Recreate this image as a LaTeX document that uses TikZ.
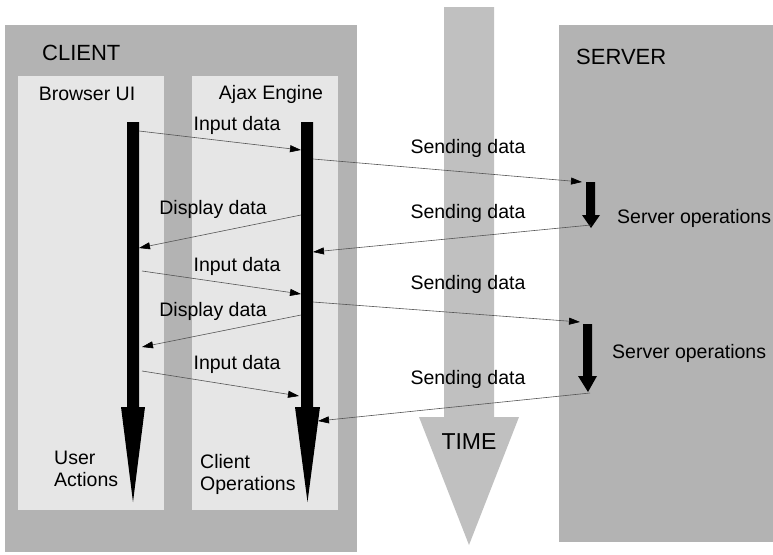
\documentclass[tikz,border=0pt]{standalone}
\usepackage{fontspec}
\setmainfont{Liberation Sans}
\usetikzlibrary{arrows.meta}
\definecolor{boxgray}{HTML}{B3B3B3}
\definecolor{panelgray}{HTML}{E6E6E6}
\definecolor{timegray}{HTML}{C0C0C0}
\definecolor{msgline}{HTML}{555555}
\tikzset{
  region/.style={fill=boxgray, draw=none},
  panel/.style={fill=panelgray, draw=none},
  lbl/.style={font=\fontsize{19.5}{22}\selectfont, inner sep=0pt, text=black},
  title/.style={font=\fontsize{22}{25}\selectfont, inner sep=0pt, text=black},
  msg/.style={draw=msgline, line width=0.6pt, -{Triangle[length=11pt,width=7pt,black]}},
  thick arrow/.style={fill=black, draw=none},
}
\begin{document}
\begin{tikzpicture}[x=1pt,y=-1pt]
\useasboundingbox (0,0) rectangle (773,554);
% regions
\fill[region] (5,25) rectangle (357,552);
\fill[panel] (18,76) rectangle (164,510);
\fill[panel] (192,76) rectangle (338,510);
\fill[region] (559,25) rectangle (773,542);
% time arrow
\fill[timegray] (444,7) -- (494,7) -- (494,417) -- (519,417) -- (469,545) -- (419,417) -- (444,417) -- cycle;
\node[title, font=\fontsize{23}{26}\selectfont] (time) at (469,442) {TIME};
% titles
\node[title, anchor=west] (client) at (42,53) {CLIENT};
\node[title, anchor=west] (server) at (576,57) {SERVER};
\node[lbl] (bui) at (87,94) {Browser UI};
\node[lbl] (aje) at (271,94) {Ajax Engine};
% thick lifelines
\fill[thick arrow] (127,122) -- (139,122) -- (139,407) -- (145,407) -- (133,502) -- (121,407) -- (127,407) -- cycle;
\fill[thick arrow] (301,122) -- (313,122) -- (313,407) -- (320,407) -- (307.5,502) -- (295,407) -- (301,407) -- cycle;
\fill[thick arrow] (586,182) -- (595,182) -- (595,215) -- (600,215) -- (591,228) -- (582,215) -- (586,215) -- cycle;
\fill[thick arrow] (583,324) -- (592,324) -- (592,376) -- (597,376) -- (588,392) -- (578,376) -- (583,376) -- cycle;
% bottom labels
\node[lbl, anchor=west, align=left] (ua) at (54,469) {User\\Actions};
\node[lbl, anchor=west, align=left] (co) at (200,474) {Client\\Operations};
\node[lbl, anchor=west] (so1) at (617,218) {Server operations};
\node[lbl, anchor=west] (so2) at (612,353) {Server operations};
% message endpoints
\coordinate (b1) at (139,131);  \coordinate (a1) at (301,150);
\coordinate (a2) at (313,159);  \coordinate (s1) at (582,182);
\coordinate (a3) at (301,215);  \coordinate (b3) at (139,248);
\coordinate (s2) at (591,225);  \coordinate (a4) at (313,252);
\coordinate (b5) at (142,271);  \coordinate (a5) at (301,294);
\coordinate (a6) at (313,302);  \coordinate (s3) at (580,322);
\coordinate (a7) at (301,315);  \coordinate (b7) at (142,347);
\coordinate (b8) at (142,371);  \coordinate (a8) at (299,396);
\coordinate (s4) at (590,393);  \coordinate (a9) at (318,421);
% messages
\draw[msg] (b1) -- (a1);
\draw[msg] (a2) -- (s1);
\draw[msg] (a3) -- (b3);
\draw[msg] (s2) -- (a4);
\draw[msg] (b5) -- (a5);
\draw[msg] (a6) -- (s3);
\draw[msg] (a7) -- (b7);
\draw[msg] (b8) -- (a8);
\draw[msg] (s4) -- (a9);
% message labels
\node[lbl] (l1) at (237,125) {Input data};
\node[lbl] (l2) at (468,148) {Sending data};
\node[lbl] (l3) at (213,209) {Display data};
\node[lbl] (l4) at (468,213) {Sending data};
\node[lbl] (l5) at (237,266) {Input data};
\node[lbl] (l6) at (468,284) {Sending data};
\node[lbl] (l7) at (213,311) {Display data};
\node[lbl] (l8) at (237,364) {Input data};
\node[lbl] (l9) at (468,379) {Sending data};
\end{tikzpicture}
\end{document}
